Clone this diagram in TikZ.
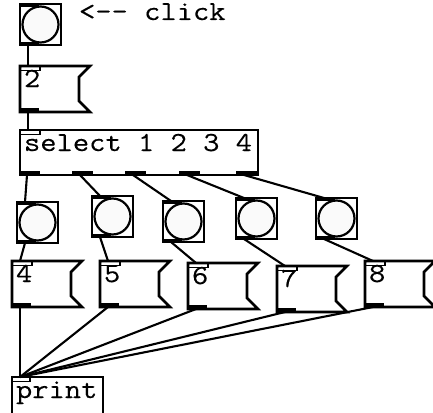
\documentclass[tikz,border=0pt]{standalone}
\usepackage{fontspec}
\newfontfamily\pdmono[FakeStretch=1.15, FakeBold=0.2]{Latin Modern Mono}
\tikzset{
  boxline/.style={line width=2.6pt, line join=miter},
  wire/.style={line width=2.1pt},
  pdtext/.style={anchor=base west, inner sep=0pt, outer sep=0pt, font=\pdmono\fontsize{27.5}{30}\selectfont},
  pdobj/.style={draw, line width=2.6pt, rectangle, inner sep=0pt, outer sep=0pt, anchor=north west},
}
\newcommand\pdmsg[4]{%
  \draw[boxline] (#2,#3) -- ++(70,0) -- ++(-11,11) -- ++(0,24) -- ++(11,11) -- ++(-70,0) -- cycle;
  \draw[line width=1.6pt] (#2,#3) rectangle ++(20,4.5);
  \fill (#2-1,#3+47) rectangle ++(20,-5);
  \node[pdtext] (#1) at (#2+4,#3+21) {#4};
  \coordinate (#1-in) at (#2+8,#3);
  \coordinate (#1-out) at (#2+8,#3+46);
}
\newcommand\pdbang[3]{%
  \node[pdobj, line width=2.8pt, minimum width=41pt, minimum height=41pt] (#1) at (#2,#3) {};
  \node[draw, circle, line width=2.2pt, minimum size=36pt, inner sep=0pt, fill=black!2] (#1-c) at (#1.center) {};
  \fill (#2-1.4,#3-1.4) rectangle ++(20,4.8);
  \fill (#2-1.4,#3+42.4) rectangle ++(20,-4.8);
  \coordinate (#1-in) at (#2+8,#3);
  \coordinate (#1-out) at (#2+8,#3+41);
}
\begin{document}
\begin{tikzpicture}[x=1pt, y=-1pt]
\clip (0,0) rectangle (433,412);
\fill[white] (0,0) rectangle (433,412);

% top bang and label
\pdbang{b0}{20}{4}
\node[pdtext] (lbl) at (79,20) {<-{}- click};

% message 2
\pdmsg{m2}{20}{66}{2}

% select
\node[pdobj, minimum width=238pt, minimum height=45pt] (sel) at (20,130) {};
\node[pdtext] (seltxt) at (24,151) {select 1 2 3 4};
\draw[line width=1.6pt] (20,130) rectangle ++(20,4.5);
\foreach \i/\ox in {0/0,1/53,2/106,3/160,4/217}{
  \fill (19+\ox,176.3) rectangle ++(21,-5);
  \coordinate (sel-out\i) at (20+\ox+7,175);
}
\coordinate (sel-in) at (28,130);

% row of bangs
\pdbang{b1}{17}{202}
\pdbang{b2}{92}{196}
\pdbang{b3}{163}{201}
\pdbang{b4}{236}{198}
\pdbang{b5}{316}{198}

% row of messages
\pdmsg{m4}{12}{261}{4}
\pdmsg{m5}{100}{261}{5}
\pdmsg{m6}{188}{263}{6}
\pdmsg{m7}{277}{266}{7}
\pdmsg{m8}{365}{261}{8}

% print
\node[pdobj, minimum width=91pt, minimum height=45pt] (pr) at (12,377) {};
\node[pdtext] (prtxt) at (16,398) {print};
\draw[line width=1.6pt] (12,377) rectangle ++(18,4.5);
\coordinate (pr-in) at (20,377);

% connections
\draw[wire] (b0-out) -- (m2-in);
\draw[wire] (m2-out) -- (sel-in);
\draw[wire] (sel-out0) -- (b1-in);
\draw[wire] (sel-out1) -- (b2-in);
\draw[wire] (sel-out2) -- (b3-in);
\draw[wire] (sel-out3) -- (b4-in);
\draw[wire] (sel-out4) -- (b5-in);
\draw[wire] (b1-out) -- (m4-in);
\draw[wire] (b2-out) -- (m5-in);
\draw[wire] (b3-out) -- (m6-in);
\draw[wire] (b4-out) -- (m7-in);
\draw[wire] (b5-out) -- (m8-in);
\foreach \m in {m4,m5,m6,m7,m8}{ \draw[wire] (\m-out) -- (pr-in); }
\end{tikzpicture}
\end{document}
